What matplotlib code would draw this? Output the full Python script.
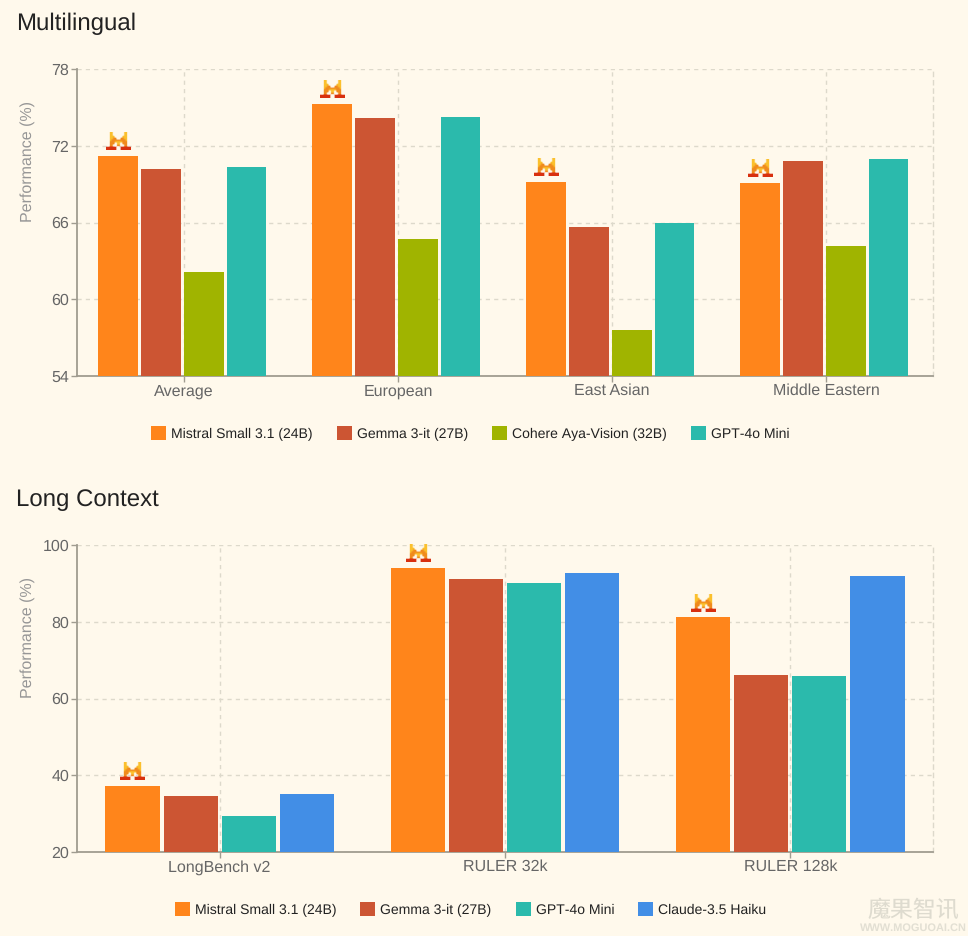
import numpy as np
import matplotlib
matplotlib.use("Agg")
import matplotlib.pyplot as plt
from matplotlib.patches import Patch
from matplotlib.offsetbox import OffsetImage, AnnotationBbox
from matplotlib.colors import to_rgba

plt.rcParams['font.family'] = ['Liberation Sans', 'DejaVu Sans']
plt.rcParams['text.hinting'] = 'no_hinting'
plt.rcParams['text.hinting_factor'] = 1

# ---- data ----
ml_title = "Multilingual"
ml_categories = ["Average", "European", "East Asian", "Middle Eastern"]
ml_mistral = [71.2, 75.3, 69.2, 69.1]
ml_gemma = [70.2, 74.2, 65.65, 70.8]
ml_cohere = [62.1, 64.7, 57.6, 64.15]
ml_gpt = [70.35, 74.25, 65.95, 70.95]
ml_ticks = [54, 60, 66, 72, 78]

lc_title = "Long Context"
lc_categories = ["LongBench v2", "RULER 32k", "RULER 128k"]
lc_mistral = [37.2, 94.0, 81.2]
lc_gemma = [34.6, 91.1, 66.1]
lc_gpt = [29.3, 90.2, 65.9]
lc_claude = [35.1, 92.6, 91.9]
lc_ticks = [20, 40, 60, 80, 100]

MISTRAL = "Mistral Small 3.1 (24B)"
GEMMA = "Gemma 3-it (27B)"
COHERE = "Cohere Aya-Vision (32B)"
GPT = "GPT-4o Mini"
CLAUDE = "Claude-3.5 Haiku"

colors = {MISTRAL: "#FF851B", GEMMA: "#CC5533", COHERE: "#A0B400",
          GPT: "#2BBAAC", CLAUDE: "#428EE6"}

BG = "#FFF9EC"
W, H = 968, 936

# pixel-art Mistral badge
icon_rows = [
    "..yy......yy..",
    "..yy......yy..",
    "..yyy....yyy..",
    "..yyoo..ooyy..",
    "..yooooooooy..",
    "..oooyyyyooo..",
    "..ooo.yy.ooo..",
    "..oo..oo..oo..",
    "rrrrrr..rrrrrr",
    "rrrrrr..rrrrrr",
]
icon_cols = {".": (1, 1, 1, 0), "y": to_rgba("#FBC02D"), "o": to_rgba("#F08A1D"),
             "r": to_rgba("#D8300F")}
icon = np.array([[icon_cols[c] for c in row] for row in icon_rows])


def panel(box, title, title_y, cats, series, ticks, step, width, shift, legend_y, ylab_y):
    left, top, right, bottom = box
    ax = fig.add_axes([left / W, 1 - bottom / H, (right - left) / W, (bottom - top) / H])
    ax.set_facecolor(BG)
    ax.set_xlim(-0.5, len(cats) - 0.5)
    ax.set_ylim(ticks[0], ticks[-1])
    x = np.arange(len(cats))
    names = list(series)
    for j, name in enumerate(names):
        ax.bar(x + (j - (len(names) - 1) / 2) * step + shift, series[name], width,
               color=colors[name], zorder=3)
    first = series[names[0]]
    for xi, v in zip(x, first):
        ab = AnnotationBbox(OffsetImage(icon, zoom=1.25, interpolation="bilinear"),
                            (xi - 1.5 * step + shift, v), xybox=(0, 10.3),
                            xycoords="data", boxcoords="offset points",
                            frameon=False, pad=0, zorder=4)
        ax.add_artist(ab)
    ax.set_xticks(x, cats)
    ax.set_yticks(ticks)
    ax.grid(True, color="#DDD9CB", linestyle=(0, (3, 3)), linewidth=1, zorder=0)
    ax.set_axisbelow(True)
    ax.spines["top"].set_visible(False)
    ax.spines["right"].set_visible(True)
    ax.spines["right"].set_color("#DDD9CB")
    ax.spines["right"].set_linestyle((0, (3, 3)))
    ax.spines["right"].set_linewidth(1)
    for s in ("left", "bottom"):
        ax.spines[s].set_color("#A09C90")
        ax.spines[s].set_linewidth(1.3)
    ax.tick_params(axis="both", length=4, width=1, color="#A09C90", labelcolor="#666666",
                   labelsize=11.4, pad=1.5)
    ax.tick_params(axis="y", pad=1.5)
    fig.text(16 / W, 1 - (title_y + 1.5) / H, title, fontsize=17.5, color="#222222", va="center", ha="left")
    fig.text(28 / W, 1 - ylab_y / H, "Performance (%)", rotation=90, fontsize=11.2,
             color="#969696", va="center", ha="center")
    handles = [Patch(facecolor=colors[n], edgecolor="none", label=n) for n in names]
    fig.legend(handles=handles, loc="center", bbox_to_anchor=(470.5 / W, 1 - (legend_y + 0.5) / H),
               ncol=len(names), frameon=False, fontsize=10, handlelength=1.08, handleheight=1.08,
               handletextpad=0.36, columnspacing=1.73, labelcolor="#222222")


fig = plt.figure(figsize=(W / 100, H / 100), dpi=100, facecolor=BG)

panel((77, 69, 933, 376), ml_title, 22, ml_categories,
      {MISTRAL: ml_mistral, GEMMA: ml_gemma, COHERE: ml_cohere, GPT: ml_gpt},
      ml_ticks, 0.2, 0.186, -0.008, 433, 162)
panel((77, 545, 933, 852), lc_title, 498, lc_categories,
      {MISTRAL: lc_mistral, GEMMA: lc_gemma, GPT: lc_gpt, CLAUDE: lc_claude},
      lc_ticks, 0.2035, 0.19, 0.0, 909, 638)

# watermark
fig.text(913 / W, 1 - 910 / H, "魔果智讯", fontsize=16.5, color="#DEDBCF",
         ha="center", va="center", family=['Noto Sans CJK SC', 'DejaVu Sans'])
fig.text(913 / W, 1 - 928.5 / H, "WWW.MOGUOAI.CN", fontsize=7.6, fontweight="bold", color="#E2DFD3",
         ha="center", va="center")

fig.savefig("out.png", dpi=100, facecolor=BG)
